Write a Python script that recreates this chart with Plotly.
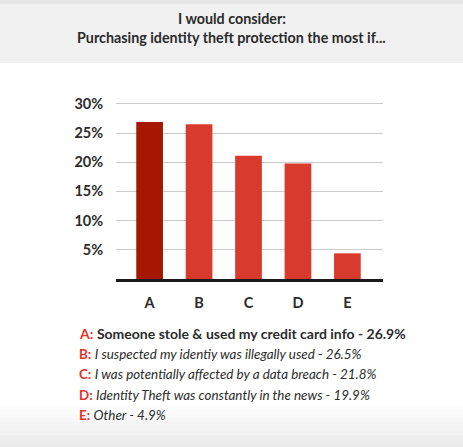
import plotly.graph_objects as go

categories = ["A", "B", "C", "D", "E"]
values = [26.9, 26.5, 21.1, 19.8, 4.4]
bar_colors = ["#a51700", "#d93a2e", "#d93a2e", "#d93a2e", "#d93a2e"]
y_ticks = [5, 10, 15, 20, 25, 30]
y_tick_labels = ["5%", "10%", "15%", "20%", "25%", "30%"]
legend_keys = ["A:", "B:", "C:", "D:", "E:"]
legend_texts = [
    "Someone stole & used my credit card info - 26.9%",
    "I suspected my identiy was illegally used - 26.5%",
    "I was potentially affected by a data breach - 21.8%",
    "Identity Theft was constantly in the news - 19.9%",
    "Other - 4.9%",
]
title_lines = ["I would consider:", "Purchasing identity theft protection the most if..."]

W, H = 463, 447
L, R, T, B = 116, 80, 98, 168
PW, PH = W - L - R, H - T - B
FONT = "Lato"

def px_to_paper_x(px):
    return (px - L) / PW

def px_to_paper_y(py):
    return (H - B - py) / PH

fig = go.Figure()
fig.add_trace(go.Bar(
    x=categories, y=values, marker=dict(color=bar_colors, line=dict(width=0)),
    width=0.54, hoverinfo="skip",
))

shapes = []
# header band
shapes.append(dict(type="rect", xref="paper", yref="paper", layer="below",
                   x0=px_to_paper_x(0), x1=px_to_paper_x(W),
                   y0=px_to_paper_y(63), y1=px_to_paper_y(0),
                   fillcolor="#f1f1f1", line=dict(width=0)))
shapes.append(dict(type="rect", xref="paper", yref="paper", layer="below",
                   x0=px_to_paper_x(0), x1=px_to_paper_x(W),
                   y0=px_to_paper_y(4), y1=px_to_paper_y(0),
                   fillcolor="#e6e6e6", line=dict(width=0)))
# bottom fade
n = 10
for i in range(n):
    y0 = 405 + i * 4.2
    g = int(255 - (i + 1) * 2.0)
    shapes.append(dict(type="rect", xref="paper", yref="paper", layer="below",
                       x0=px_to_paper_x(0), x1=px_to_paper_x(W),
                       y0=px_to_paper_y(y0 + 4.3), y1=px_to_paper_y(y0),
                       fillcolor=f"rgb({g},{g},{g})", line=dict(width=0)))

annotations = []
for i, line in enumerate(title_lines):
    annotations.append(dict(
        xref="paper", yref="paper", x=px_to_paper_x(W / 2), y=px_to_paper_y(18 + i * 19),
        xanchor="center", yanchor="middle", showarrow=False,
        text=f"<b>{line}</b>",
        font=dict(family=FONT, size=14.3, color="#2b2b2b"),
    ))

for i, (k, t) in enumerate(zip(legend_keys, legend_texts)):
    ypix = 333 + i * 20.6
    if i == 0:
        body = f"<b>{t}</b>"
        size = 14
    else:
        body = f"<i>{t}</i>"
        size = 13.4
    annotations.append(dict(
        xref="paper", yref="paper", x=px_to_paper_x(77), y=px_to_paper_y(ypix),
        xanchor="left", yanchor="middle", showarrow=False,
        text=f"<b><span style='color:#e0352b'>{k}</span></b> {body}",
        font=dict(family=FONT, size=size, color="#2b2b2b"),
    ))

fig.update_layout(
    width=W, height=H,
    margin=dict(l=L, r=R, t=T, b=B, pad=0),
    paper_bgcolor="#ffffff", plot_bgcolor="rgba(0,0,0,0)",
    showlegend=False, bargap=0.46,
    xaxis=dict(range=[-0.68, 4.72], showline=True, linecolor="#1a1a1a", linewidth=3,
               showgrid=False, zeroline=False, ticks="outside", ticklen=9,
               tickcolor="rgba(0,0,0,0)",
               tickfont=dict(family=FONT, size=14.5, color="#2b2b2b"),
               tickprefix="<b>", ticksuffix="</b>", fixedrange=True),
    yaxis=dict(range=[0, 31], tickvals=y_ticks, ticktext=[f"<b>{s}</b>" for s in y_tick_labels],
               showgrid=True, gridcolor="#cbcbcb", gridwidth=1, zeroline=False,
               showline=False, ticks="outside", ticklen=9, tickcolor="rgba(0,0,0,0)",
               tickfont=dict(family=FONT, size=14.5, color="#2b2b2b"), fixedrange=True),
    shapes=shapes, annotations=annotations,
)

fig.write_html("out.html", config={"displayModeBar": False},
               post_script="document.body.style.margin='0px';document.body.style.padding='0px';")
